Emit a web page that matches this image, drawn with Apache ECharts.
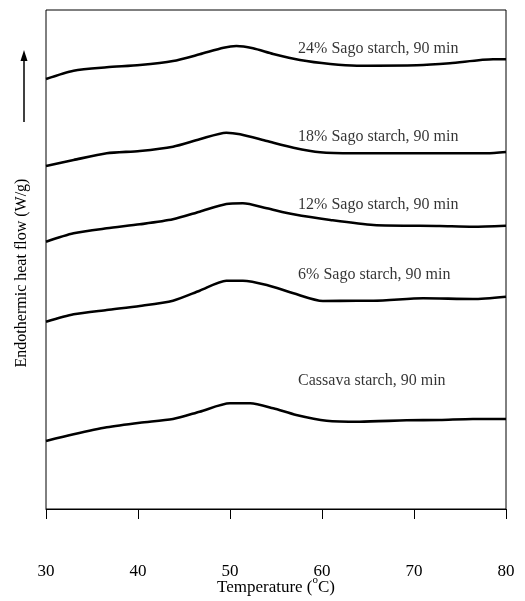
<!DOCTYPE html>
<html>
<head>
<meta charset="utf-8">
<script src="https://cdn.jsdelivr.net/npm/echarts@6/dist/echarts.min.js"></script>
<style>html,body{margin:0;padding:0;background:#fff}#c{width:525px;height:601px}</style>
</head>
<body>
<div id="c"></div>
<script>
// Temperature (°C) and relative heat flow (arbitrary offset units)
const xTicks = [30, 40, 50, 60, 70, 80];
const sago24 = [[30,430],[33,438.3],[36.6,441.7],[40.2,444],[43.8,448],[46.7,454.7],[49.3,461.3],[50.7,463],[52.5,460.7],[54.7,455],[57.6,449],[60.9,445],[63.8,443.3],[70.3,443.7],[73.9,445.7],[78.6,449.7],[80,449.7]];
const sago18 = [[30,343],[33,349],[36.6,355.7],[40.2,358],[43.8,362.3],[46.7,369.7],[49.6,376.3],[51.1,374.7],[54,368],[56.9,361.3],[59.8,356.7],[63.4,355.7],[69.2,355.7],[77.9,355.7],[80,357]];
const sago12 = [[30,267.3],[33,275.7],[36.6,280.7],[40.2,284.7],[43.8,289.7],[46.7,297.3],[49.6,305],[51.4,305.7],[54,300.7],[56.9,294.7],[60.9,289],[65.6,284],[72.8,283],[76.4,282.3],[80,283.3]];
const sago6 = [[30,187.3],[33,194.7],[36.6,199],[40.2,203],[43.8,208.3],[46.7,218.3],[49.6,228.3],[51.4,228.3],[54,224],[56.9,215.7],[60.1,208],[63.8,208.3],[65.6,208.3],[71,210.7],[76.4,210],[80,212.3]];
const cassava = [[30,68],[33,74.7],[36.6,81.7],[40.2,86.3],[43.8,90],[46.7,97.3],[50,105.7],[52.2,105.7],[54.7,100.7],[57.2,94],[60.5,88.3],[64.1,87.3],[69.2,88.7],[72.8,89],[76.4,90],[80,90]];
const curveNames = ['24% Sago starch, 90 min','18% Sago starch, 90 min','12% Sago starch, 90 min','6% Sago starch, 90 min','Cassava starch, 90 min'];
const labelX = [57.4, 57.4, 57.4, 57.4, 57.4];
const labelY = [460, 372.3, 304, 234, 128];

const FONT = '"Liberation Serif", "Times New Roman", serif';
const curves = [sago24, sago18, sago12, sago6, cassava];

const chart = echarts.init(document.getElementById('c'), null, {renderer: 'canvas'});
const series = curves.map((d, i) => ({
  type: 'line', name: curveNames[i], data: d, showSymbol: false, smooth: 0.25,
  lineStyle: {color: '#000', width: 2.6}, silent: true, animation: false
}));
series.push({
  type: 'scatter', symbolSize: 0, animation: false, silent: true,
  data: curveNames.map((n, i) => ({value: [labelX[i], labelY[i]], name: n})),
  label: {show: true, position: 'right', distance: 0, formatter: p => p.name,
    color: '#000', fontFamily: FONT, fontSize: 16}
});

chart.setOption({
  backgroundColor: '#fff',
  animation: false,
  grid: {left: 46, right: 19, top: 10, bottom: 92, containLabel: false, outerBoundsMode: 'none',
    show: true, borderColor: '#000', borderWidth: 1},
  xAxis: {
    type: 'value', min: 30, max: 80, interval: 10,
    axisLine: {lineStyle: {color: '#000', width: 1}},
    axisTick: {show: true, inside: false, length: 10, lineStyle: {color: '#000'}},
    splitLine: {show: false},
    axisLabel: {margin: 54, color: '#000', fontFamily: FONT, fontSize: 17,
      formatter: v => xTicks.includes(v) ? String(v) : ''},
    name: '{a|Temperature (}{s|o}{a|C)}', nameLocation: 'middle', nameGap: 69,
    nameMoveOverlap: false,
    nameTextStyle: {rich: {
      a: {fontFamily: FONT, fontSize: 17, color: '#000', lineHeight: 18, verticalAlign: 'bottom'},
      s: {fontFamily: FONT, fontSize: 11, color: '#000', lineHeight: 11, verticalAlign: 'bottom', padding: [0, 0, 10, 0]}
    }}
  },
  yAxis: {
    type: 'value', min: 0, max: 499, show: false
  },
  graphic: [
    {type: 'text', x: 22, y: 273, rotation: Math.PI / 2,
      style: {text: 'Endothermic heat flow (W/g)', font: '16px ' + FONT, fill: '#000', align: 'center', verticalAlign: 'middle'}},
    {type: 'line', shape: {x1: 24, y1: 122, x2: 24, y2: 58}, style: {stroke: '#000', lineWidth: 1.5}},
    {type: 'polygon', shape: {points: [[24, 50], [20.5, 61], [27.5, 61]]}, style: {fill: '#000'}}
  ],
  series: series
});
</script>
</body>
</html>
